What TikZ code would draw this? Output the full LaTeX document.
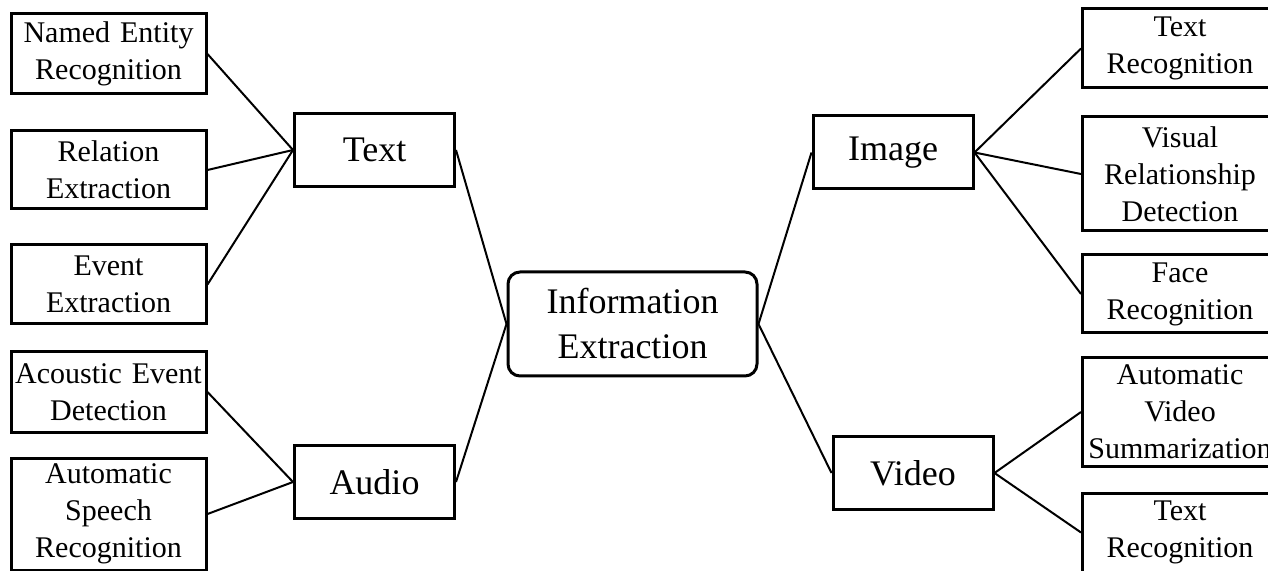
\documentclass[tikz,border=0pt]{standalone}
\usepackage{fontspec}
\setmainfont{Liberation Serif}

\begin{document}
\begin{tikzpicture}[x=0.5pt, y=-0.5pt,
    task/.style ={rectangle, draw, line width=1.5pt, inner sep=0pt, text width=97.5pt, align=center, font=\fontsize{15}{18.5}\selectfont},
    modality/.style ={rectangle, draw, line width=1.5pt, inner sep=0pt, minimum width=80pt, minimum height=36.5pt, font=\fontsize{18}{22.5}\selectfont},
    core/.style ={rectangle, rounded corners=6pt, draw, line width=1.5pt, inner sep=0pt, minimum width=124.5pt, minimum height=52pt, align=center, font=\fontsize{18}{22.5}\selectfont},
    link/.style ={line width=1pt}]
   \useasboundingbox (0,0) rectangle (1268,571);
   % centre
   \node[core] (IE) at (632.5,324) {Information\\Extraction};
   % modalities
   \node[modality] (Text) at (374.5,150) {Text};
   \node[modality] (Audio) at (374.5,482) {Audio};
   \node[modality] (Image) at (893,152.5) {Image};
   \node[modality] (Video) at (913,473) {Video};
   % left tasks
   \node[task, minimum height=40pt] (NER) at (108.5,54) {Named Entity\\Recognition};
   \node[task, minimum height=39pt] (RE) at (108.5,170) {Relation\\Extraction};
   \node[task, minimum height=39.5pt] (EE) at (108.5,284.5) {Event\\Extraction};
   \node[task, minimum height=40pt] (AED) at (108.5,392) {Acoustic Event\\Detection};
   \node[task, minimum height=56pt] (ASR) at (108.5,514) {Automatic\\Speech\\Recognition};
   % right tasks
   \node[task, minimum height=39.5pt] (TR1) at (1180,48.5) {Text\\Recognition};
   \node[task, minimum height=57pt] (VRD) at (1180,174) {Visual\\Relationship\\Detection};
   \node[task, minimum height=39pt] (FR) at (1180,294) {Face\\Recognition};
   \node[task, minimum height=54pt] (AVS) at (1180,412) {Automatic\\Video\\Summarization};
   \node[task, minimum height=39.5pt] (TR2) at (1180,532.5) {Text\\Recognition};
   % connectors
   \draw[link] (Text.east) to (IE.west);
   \draw[link] (Audio.east) to (IE.west);
   \draw[link] (IE.east) to (Image.west);
   \draw[link] (IE.east) to (Video.west);
   \draw[link] (NER.east) to (Text.west);
   \draw[link] (RE.east) to (Text.west);
   \draw[link] (EE.east) to (Text.west);
   \draw[link] (AED.east) to (Audio.west);
   \draw[link] (ASR.east) to (Audio.west);
   \draw[link] (Image.east) to (TR1.west);
   \draw[link] (Image.east) to (VRD.west);
   \draw[link] (Image.east) to (FR.west);
   \draw[link] (Video.east) to (AVS.west);
   \draw[link] (Video.east) to (TR2.west);
\end{tikzpicture}
\end{document}
